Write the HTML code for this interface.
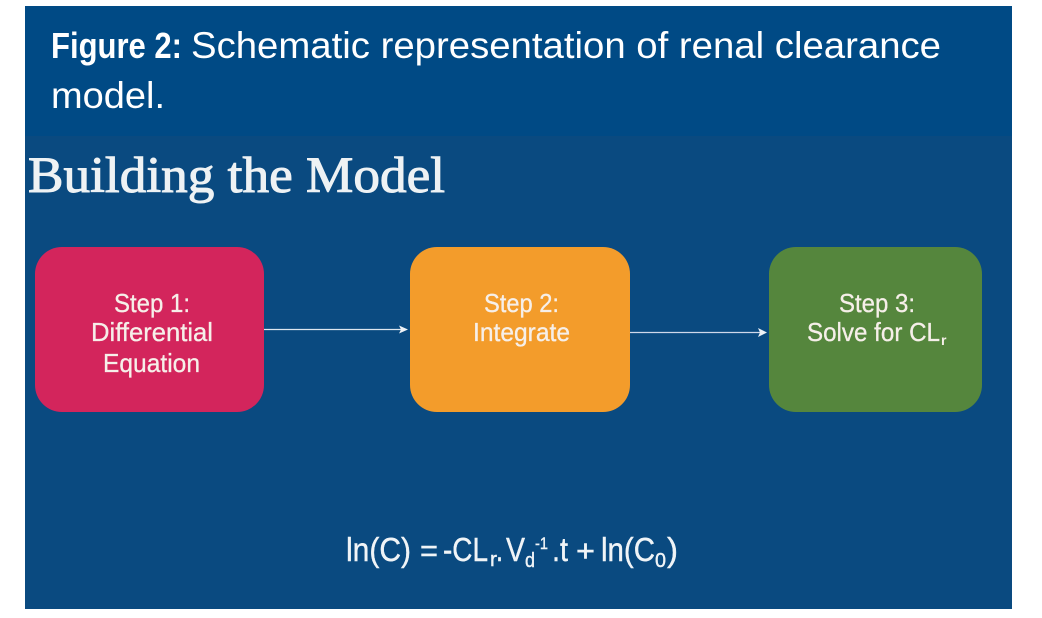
<!DOCTYPE html>
<html>
<head>
<meta charset="utf-8">
<style>
html,body{margin:0;padding:0;background:#fff;width:1042px;height:618px;overflow:hidden}
svg{display:block}
text{font-family:"Liberation Sans",sans-serif;fill:#fff}
.s{font-size:26px;fill:#f6efe9;stroke:#f6efe9;stroke-width:0.3px}
.e{fill:#f0f4f7;stroke:#f0f4f7;stroke-width:0.4px}
</style>
</head>
<body>
<svg width="1042" height="618" viewBox="0 0 1042 618" xmlns="http://www.w3.org/2000/svg">
<rect width="1042" height="618" fill="#fff"/>
<rect x="25" y="6" width="987" height="130" fill="#004a85"/>
<rect x="25" y="136" width="987" height="473" fill="#0a4a80"/>

<text x="51" y="58" font-size="36" font-weight="bold" textLength="131" lengthAdjust="spacingAndGlyphs">Figure 2:</text>
<text x="191" y="58" font-size="37" textLength="750" lengthAdjust="spacingAndGlyphs">Schematic representation of renal clearance</text>
<text x="51" y="108" font-size="37" textLength="114" lengthAdjust="spacingAndGlyphs">model.</text>

<text x="28" y="192" font-size="51" style="font-family:'Liberation Serif',serif;fill:#eef2f4;stroke:#eef2f4;stroke-width:1px" textLength="417" lengthAdjust="spacingAndGlyphs">Building the Model</text>

<rect x="35" y="247" width="229" height="165" rx="27" fill="#d3255c"/>
<rect x="410" y="247" width="220" height="165" rx="27" fill="#f39c2b"/>
<rect x="769" y="247" width="213" height="165" rx="27" fill="#55863d"/>

<line x1="264" y1="329.500" x2="405" y2="329.500" stroke="#dfe7ef" stroke-width="1.200"/>
<polygon points="408,329.500 399,325.500 401,329.500 399,333.500" fill="#eef2f6"/>
<line x1="630" y1="332.500" x2="764" y2="332.500" stroke="#cfd8ea" stroke-width="1.200"/>
<polygon points="767,332.500 758,328 760,332.500 758,337" fill="#eef2f6"/>

<text class="s" x="114" y="312" textLength="76" lengthAdjust="spacingAndGlyphs">Step 1:</text>
<text class="s" x="91" y="341" textLength="122" lengthAdjust="spacingAndGlyphs">Differential</text>
<text class="s" x="103" y="372" textLength="97" lengthAdjust="spacingAndGlyphs">Equation</text>

<text class="s" x="484" y="312" textLength="75" lengthAdjust="spacingAndGlyphs">Step 2:</text>
<text class="s" x="473" y="341" textLength="97" lengthAdjust="spacingAndGlyphs">Integrate</text>

<text class="s" x="839" y="312" textLength="76" lengthAdjust="spacingAndGlyphs">Step 3:</text>
<text class="s" x="807" y="341" textLength="133" lengthAdjust="spacingAndGlyphs">Solve for CL</text>
<text x="941" y="345" style="font-size:14px;fill:#f6efe9" font-weight="bold">r</text>

<text class="e" x="346" y="561" font-size="33" textLength="65" lengthAdjust="spacingAndGlyphs">ln(C)</text>
<text class="e" x="420" y="561" font-size="31" textLength="18" lengthAdjust="spacingAndGlyphs">=</text>
<text class="e" x="443" y="561" font-size="33" textLength="45" lengthAdjust="spacingAndGlyphs">-CL</text>
<text class="e" x="490" y="566" font-size="20" textLength="7" lengthAdjust="spacingAndGlyphs">r</text>
<text class="e" x="496" y="561" font-size="33" textLength="7" lengthAdjust="spacingAndGlyphs">.</text>
<text class="e" x="506" y="561" font-size="33" textLength="19" lengthAdjust="spacingAndGlyphs">V</text>
<text class="e" x="525" y="567" font-size="20" textLength="10" lengthAdjust="spacingAndGlyphs">d</text>
<text class="e" x="535" y="549" font-size="17" textLength="13" lengthAdjust="spacingAndGlyphs">-1</text>
<text class="e" x="552" y="561" font-size="33" textLength="16" lengthAdjust="spacingAndGlyphs">.t</text>
<text class="e" x="576" y="561" font-size="31" textLength="19" lengthAdjust="spacingAndGlyphs">+</text>
<text class="e" x="601" y="561" font-size="33" textLength="54" lengthAdjust="spacingAndGlyphs">ln(C</text>
<text class="e" x="655" y="567" font-size="20" textLength="11" lengthAdjust="spacingAndGlyphs">0</text>
<text class="e" x="667" y="561" font-size="33" textLength="11" lengthAdjust="spacingAndGlyphs">)</text>
</svg>
</body>
</html>
